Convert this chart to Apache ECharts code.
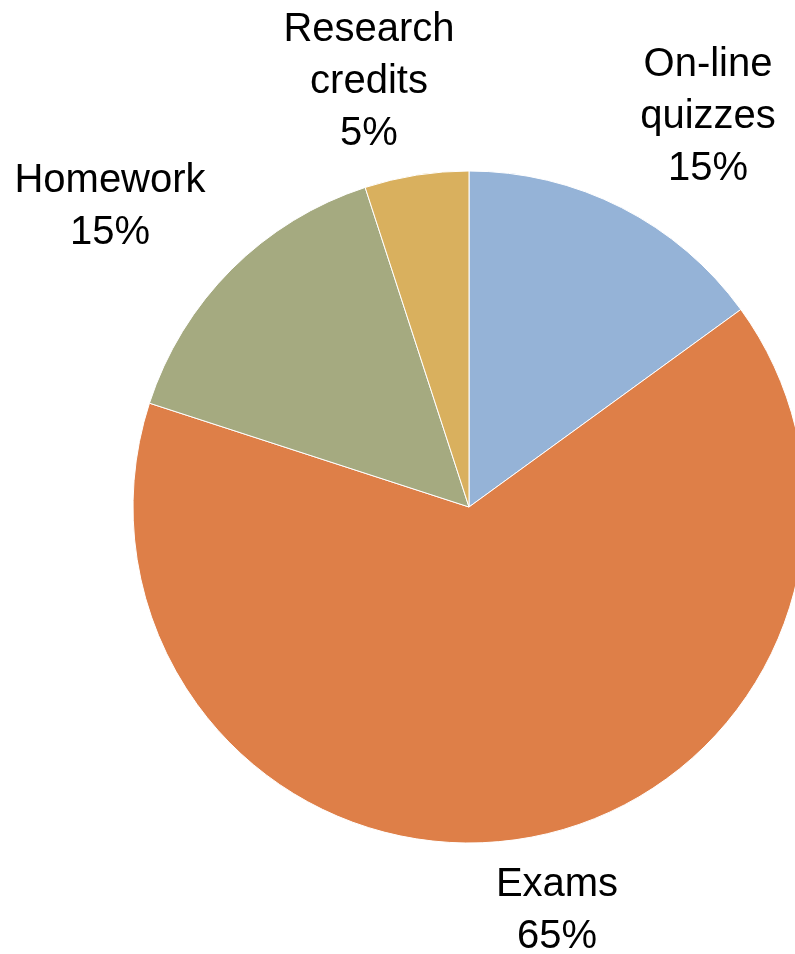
<!DOCTYPE html>
<html><head><meta charset="utf-8">
<script src="https://cdn.jsdelivr.net/npm/echarts@6/dist/echarts.min.js"></script>
<style>html,body{margin:0;padding:0;background:#fff}#c{width:795px;height:954px}</style>
</head><body><div id="c"></div>
<script>
const categories = ['On-line\nquizzes', 'Exams', 'Homework', 'Research\ncredits'];
const values = [15, 65, 15, 5];
const colors = ['#95B3D7', '#DE7F48', '#A5AA80', '#D9B05E'];
const labelPos = [[708, 117], [557, 911], [110, 207], [369, 82]];

const chart = echarts.init(document.getElementById('c'), null, {renderer: 'canvas'});
chart.setOption({
  animation: false,
  series: [{
    type: 'pie',
    center: [469, 507],
    radius: [0, 336],
    startAngle: 90,
    clockwise: true,
    avoidLabelOverlap: false,
    data: categories.map((n, i) => ({name: n, value: values[i], itemStyle: {color: colors[i]}})),
    itemStyle: {borderColor: '#ffffff', borderWidth: 1},
    label: {
      show: true,
      position: 'outside',
      formatter: '{b}\n{d}%',
      fontFamily: 'Liberation Sans',
      fontSize: 40,
      lineHeight: 52,
      color: '#000',
      align: 'center',
      overflow: 'none',
      width: 400
    },
    labelLine: {show: false},
    labelLayout: function (p) {
      const pos = labelPos[p.dataIndex];
      return {x: pos[0], y: pos[1], align: 'center', verticalAlign: 'middle', hideOverlap: false};
    }
  }]
});
</script></body></html>
